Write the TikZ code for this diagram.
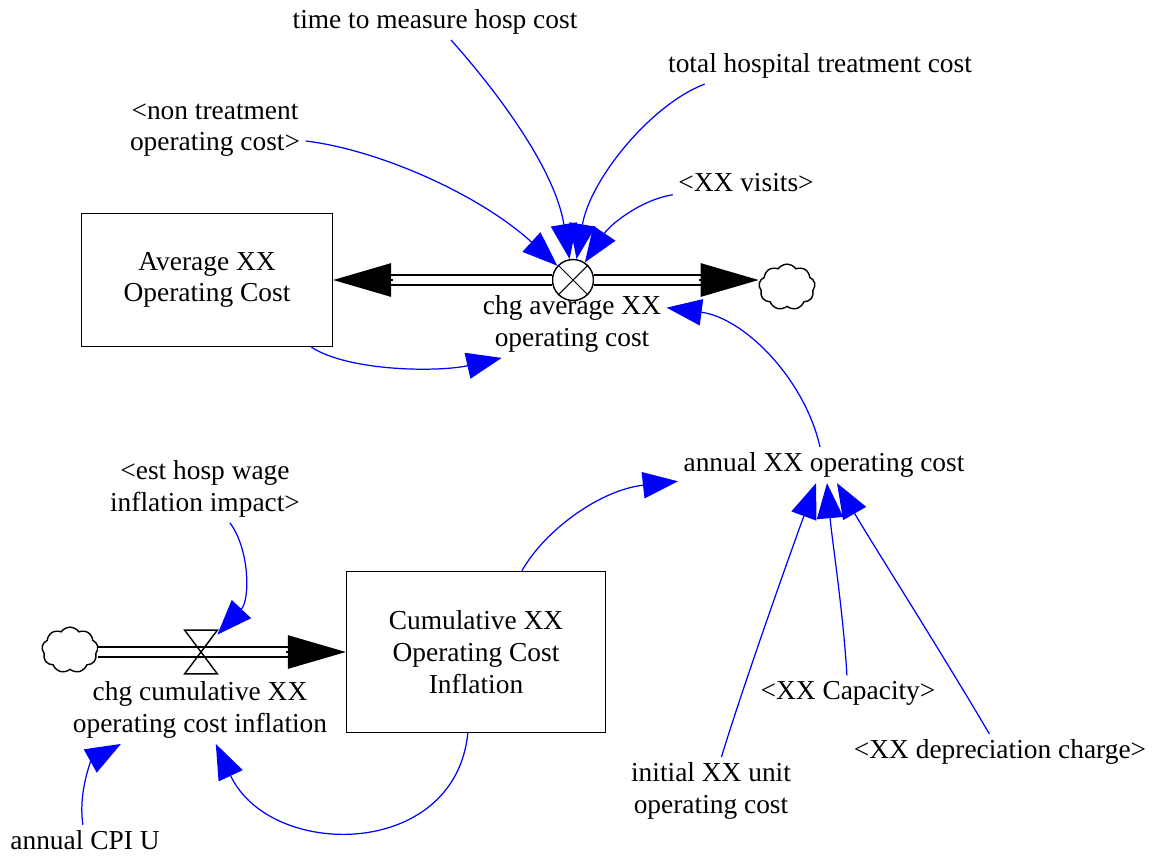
\documentclass[tikz,border=0pt]{standalone}
\usepackage{fontspec}
\setmainfont{Liberation Serif}
\usetikzlibrary{arrows.meta,shapes.symbols,calc}

\begin{document}
\begin{tikzpicture}[x=0.02cm, y=-0.02cm,
  font=\fontsize{15.6}{18}\selectfont,
  every node/.style={inner sep=3pt, align=center},
  stock/.style={draw, line width=0.8pt},
  pipe/.style={line width=0.9pt, double distance=5pt},
  flowtip/.style={-{Triangle[length=33pt,width=19pt]}, line width=0.9pt},
  link/.style={blue, line width=0.7pt, -{Triangle[length=20pt,width=15pt]}},
  sink/.style={cloud, draw, cloud puffs=9, cloud puff arc=110, line width=0.8pt, inner sep=0pt, minimum width=32pt, minimum height=26pt}]
\useasboundingbox (0,0) rectangle (1152,856);

\node[stock, minimum width=5.02cm, minimum height=2.66cm] (avg) at (207,280) {Average XX\\Operating Cost};
\node[stock, minimum width=5.18cm, minimum height=3.22cm] (cum) at (476,652) {Cumulative XX\\Operating Cost\\Inflation};

\node[circle, draw, fill=white, line width=0.8pt, minimum size=0.82cm, inner sep=0pt] (v1) at (573,280) {};
\draw[line width=0.6pt] (v1.45) -- (v1.225) (v1.135) -- (v1.315);
\node (lbl1) at (572,324) {chg average XX\\operating cost};
\node[sink] (cl1) at (787,287) {};
\coordinate (k1) at (cl1.west |- v1);

\node[minimum width=0.64cm, minimum height=0.86cm, inner sep=0pt] (v2) at (201,652) {};
\node (lbl2) at (200,710) {chg cumulative XX\\operating cost inflation};
\node[sink] (cl2) at (70,650) {};
\coordinate (k2) at (cl2.east |- v2);

\draw[pipe] (v1.west) -- ([xshift=33pt]avg.east);
\draw[flowtip] ([xshift=34pt]avg.east) -- (avg.east);
\draw[pipe] (v1.east) -- ([xshift=-33pt]k1);
\draw[flowtip] ([xshift=-34pt]k1) -- (k1);
\draw[pipe] (k2) -- ([xshift=-33pt]cum.west);
\draw[flowtip] ([xshift=-34pt]cum.west) -- (cum.west);
\draw[line width=0.8pt] (v2.north west) -- (v2.north east) -- (v2.south west) -- (v2.south east) -- cycle;

\node (tmhc) at (435,22) {time to measure hosp cost};
\node (thtc) at (820,66) {total hospital treatment cost};
\node (ntoc) at (215,130) {<non treatment\\operating cost>};
\node (xxv) at (746,183) {<XX visits>};
\node (axoc) at (824,465) {annual XX operating cost};
\node (ehwi) at (205,489) {<est hosp wage\\inflation impact>};
\node (cpi) at (85,840) {annual CPI U};
\node (ixuoc) at (711,791) {initial XX unit\\operating cost};
\node (xxcap) at (848,693) {<XX Capacity>};
\node (xxdep) at (1000,752) {<XX depreciation charge>};

\draw[link] (ntoc) .. controls (380,150) and (480,195) .. (v1);
\draw[link] (tmhc) .. controls (500,95) and (555,170) .. (v1);
\draw[link] ([xshift=24pt]thtc.south west) .. controls (650,105) and (590,180) .. (v1);
\draw[link] (xxv) .. controls (640,200) and (610,225) .. (v1);
\draw[link] (avg) .. controls (350,372) and (440,372) .. ([xshift=-40pt]lbl1.south);
\draw[link] (axoc) .. controls (805,380) and (745,318) .. ([yshift=-10pt]lbl1.north east);
\draw[link] (cum) .. controls (545,530) and (600,490) .. (axoc);
\draw[link] (ehwi) .. controls (250,550) and (250,600) .. (v2);
\draw[link] (cpi) .. controls (78,790) and (92,760) .. ([xshift=-45pt]lbl2.south);
\draw[link] (cum) .. controls (455,860) and (270,860) .. (lbl2);
\draw[link] (ixuoc) .. controls (745,680) and (795,540) .. ([xshift=-4.5pt]axoc.south);
\draw[link] (xxcap) .. controls (843,610) and (832,540) .. ([xshift=1.7pt]axoc.south);
\draw[link] (xxdep) .. controls (940,650) and (870,540) .. ([xshift=7.4pt]axoc.south);
\end{tikzpicture}
\end{document}
